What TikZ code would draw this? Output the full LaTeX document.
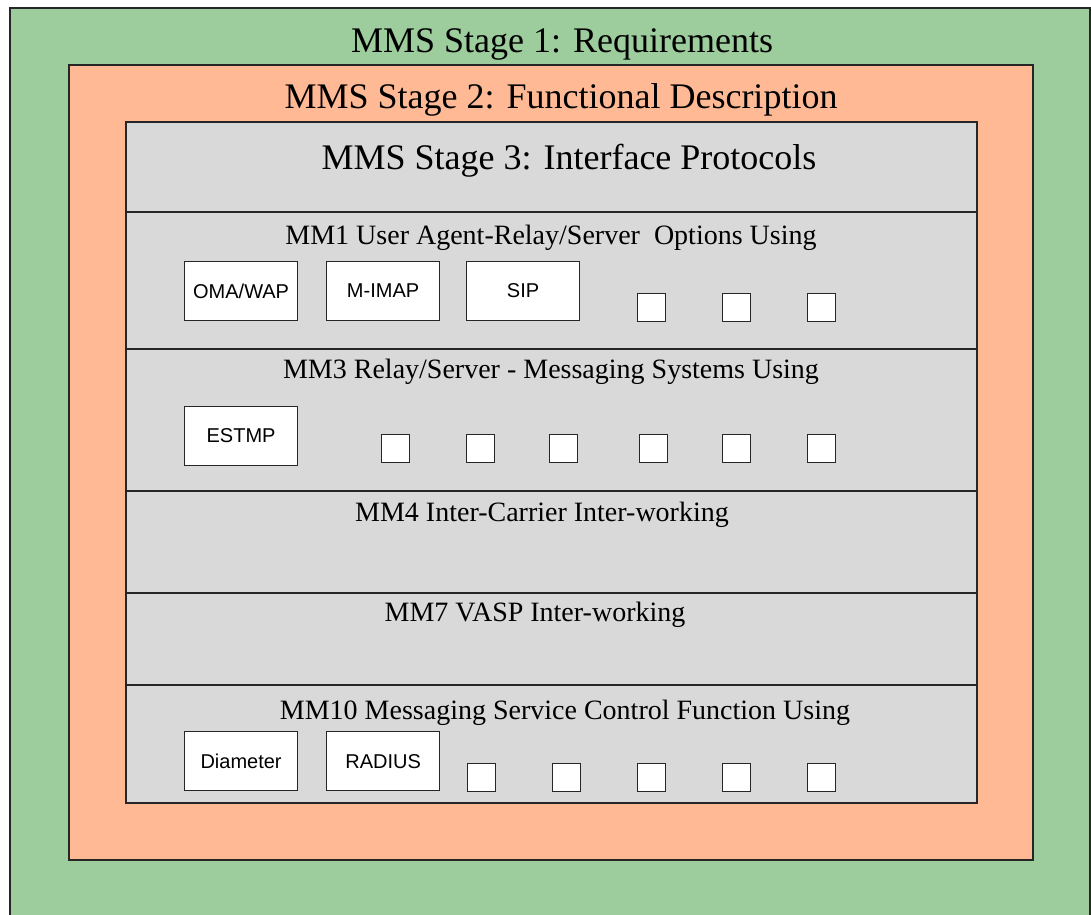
\documentclass[tikz,border=0pt]{standalone}
\usepackage{fontspec}
\setmainfont{Liberation Serif}
\setsansfont{Liberation Sans}

\definecolor{stagegreen}{HTML}{9DCC9D}
\definecolor{stageorange}{HTML}{FFB995}
\definecolor{stagegray}{HTML}{D9D9D9}

\begin{document}
\begin{tikzpicture}[x=1pt, y=-1pt,
    layer/.style={draw=black!85, line width=1.2pt},
    bigtitle/.style={anchor=base, font=\fontsize{36}{40}\selectfont},
    rowtitle/.style={anchor=base, font=\fontsize{28}{32}\selectfont},
    proto/.style={draw=black!85, line width=1.2pt, fill=white, anchor=north west,
        minimum width=113pt, minimum height=59pt, inner sep=0pt,
        font=\sffamily\fontsize{20}{21}\selectfont},
    slot/.style={draw=black!85, line width=1.2pt, fill=white, anchor=north west,
        minimum size=28pt, inner sep=0pt}]

    \useasboundingbox (0,0) rectangle (1091,914);
    \clip (0,0) rectangle (1091,914);

    % Nested stage frames
    \filldraw[layer, fill=stagegreen] (10,8) rectangle (1090,930);
    \filldraw[layer, fill=stageorange] (69,65) rectangle (1033,860);
    \filldraw[layer, fill=stagegray] (126,122) rectangle (977,803);

    % Interface rows
    \draw[layer] (126,212) -- (977,212);
    \draw[layer] (126,349) -- (977,349);
    \draw[layer] (126,491) -- (977,491);
    \draw[layer] (126,593) -- (977,593);
    \draw[layer] (126,685) -- (977,685);

    % Stage titles
    \node[bigtitle] (stageone) at (562,52) {MMS Stage 1: Requirements};
    \node[bigtitle] (stagetwo) at (561,108) {MMS Stage 2: Functional Description};
    \node[bigtitle] (stagethree) at (569,169) {MMS Stage 3: Interface Protocols};

    % Row titles
    \node[rowtitle] (mmone) at (551,244) {MM1 User Agent-Relay/Server\ \ Options Using};
    \node[rowtitle] (mmthree) at (551,378) {MM3 Relay/Server - Messaging Systems Using};
    \node[rowtitle] (mmfour) at (542,521) {MM4 Inter-Carrier Inter-working};
    \node[rowtitle] (mmseven) at (535,621) {MM7 VASP Inter-working};
    \node[rowtitle] (mmten) at (565,719) {MM10 Messaging Service Control Function Using};

    % MM1 options
    \node[proto] (omawap) at (184,261) {OMA/WAP};
    \node[proto] (mimap) at (326,261) {M-IMAP};
    \node[proto] (sip) at (466,261) {SIP};
    \foreach \x [count=\i] in {637,722,807}
        \node[slot] (mmoneslot\i) at (\x,293) {};

    % MM3 options
    \node[proto] (estmp) at (184,406) {ESTMP};
    \foreach \x [count=\i] in {381,466,549,639,722,807}
        \node[slot] (mmthreeslot\i) at (\x,434) {};

    % MM10 options
    \node[proto] (diameter) at (184,731) {Diameter};
    \node[proto] (radius) at (326,731) {RADIUS};
    \foreach \x [count=\i] in {467,552,637,722,807}
        \node[slot] (mmtenslot\i) at (\x,763) {};

\end{tikzpicture}
\end{document}
